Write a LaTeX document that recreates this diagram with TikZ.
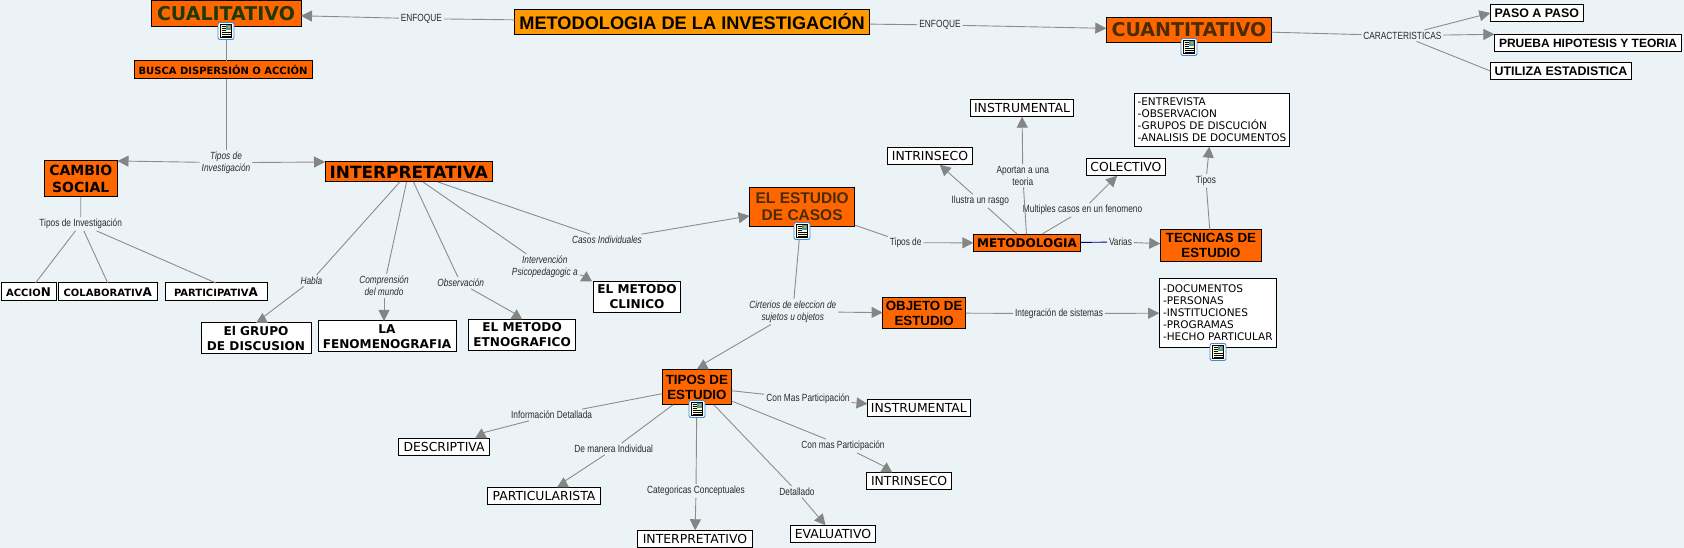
\documentclass[tikz,border=0pt]{standalone}
\usepackage{fontspec}
\setmainfont{Liberation Sans}
\newfontfamily\dv{DejaVu Sans}
\newfontfamily\lb[FakeStretch=0.8]{Liberation Sans}
\definecolor{bgc}{HTML}{ECF3F6}
\definecolor{orng}{HTML}{FF6600}
\definecolor{rootc}{HTML}{FF9900}
\definecolor{linec}{HTML}{8C8C8C}
\definecolor{headc}{HTML}{858585}
\definecolor{lblc}{HTML}{2A2A2A}
\definecolor{greenc}{HTML}{1F3A00}
\definecolor{brownc}{HTML}{4A2C00}
\definecolor{iconb}{HTML}{4A86D0}
\newcommand\fz[2]{\fontsize{#1}{#2}\selectfont}
\newcommand\mybox[7][]{%
  \pgfmathsetmacro\cxx{(#3+#5)/2}\pgfmathsetmacro\cyy{549-(#4+#6)/2}%
  \pgfmathsetmacro\www{#5-#3}\pgfmathsetmacro\hhh{#6-#4}%
  \node[boxbase,#1,minimum width=\www pt,minimum height=\hhh pt] (#2) at (\cxx,\cyy) {#7};}
\newcommand\lab[5][]{%
  \pgfmathsetmacro\cyy{549-#4}%
  \node[lbl,#1] (#2) at (#3,\cyy) {#5};}
\newcommand\upto[3]{%
  \draw[link] (#1) -- ([xshift=#3 pt,yshift=5pt]#2.north);
  \fill[headc] ([xshift=#3 pt]#2.north) ++(-6,0) -- ++(12,0) -- ++(-5.5,10) -- cycle;}
\newcommand\docicon[2]{%
  \pgfmathsetmacro\cyy{549-#2}%
  \begin{scope}[shift={(#1,\cyy)}]
    \fill[white,draw=iconb,line width=.9pt,rounded corners=2pt] (-8,-8.5) rectangle (8,8.5);
    \fill[yellow!12,draw=black,line width=.6pt] (-5.5,-6.5) rectangle (5.5,6.5);
    \fill[iconb!80!green] (0,1) rectangle (4.5,5.5);
    \fill[orng!70!yellow] (1.5,3) rectangle (3.5,5);
    \foreach \yy in {-5,-3,-1} \draw[black,line width=.7pt] (-4.5,\yy) -- (4.5,\yy);
    \foreach \yy in {1,3,5} \draw[black,line width=.7pt] (-4.5,\yy) -- (-.5,\yy);
  \end{scope}}
\tikzset{
  x=1pt,y=1pt,
  boxbase/.style={draw=black,line width=1pt,inner sep=0pt,outer sep=0pt,align=center,text=black},
  ob/.style={fill=orng},
  wb/.style={fill=white},
  fbig/.style={font=\dv\bfseries\fz{19}{21}},
  fmid/.style={font=\dv\bfseries\fz{14}{17}},
  farb/.style={font=\bfseries\fz{13.3}{15}},
  fwhb/.style={font=\dv\bfseries\fz{12.1}{15}},
  fwhr/.style={font=\dv\fz{12.4}{14}},
  flist/.style={font=\dv\fz{10.5}{12},align=left},
  lbl/.style={font=\lb\fz{10.4}{12},text=lblc,align=center,inner sep=2pt,outer sep=0pt},
  it/.style={font=\lb\itshape\fz{10.4}{12}},
  link/.style={draw=linec,line width=.9pt},
  arrowed/.style={link,-{Triangle[length=11pt,width=11pt,color=headc]}},
  bluelink/.style={draw=blue!50!black,line width=.9pt},
}
\usetikzlibrary{arrows.meta}
\begin{document}
\begin{tikzpicture}
\useasboundingbox (0,1.6) rectangle (1684,549);
\fill[bgc] (0,0) rectangle (1684,549);
% nodes
\mybox[fill=rootc,font=\bfseries\fz{18.2}{20}]{root}{514.5}{9.3}{869.7}{34.7}{METODOLOGIA DE LA INVESTIGACIÓN}
\mybox[ob,fbig,text=greenc]{cual}{151}{1}{301}{27}{CUALITATIVO}
\mybox[ob,fbig,text=brownc]{cuan}{1106.3}{17.3}{1271.7}{42.7}{CUANTITATIVO}
\mybox[ob,font=\dv\bfseries\fz{10}{12}]{busca}{134}{61}{312}{79}{BUSCA DISPERSIÓN O ACCIÓN}
\mybox[ob,fmid]{cambio}{44}{161}{117.5}{197}{CAMBIO\\SOCIAL}
\mybox[ob,font=\dv\bfseries\fz{16.9}{18}]{interp}{325}{162}{492.5}{182}{INTERPRETATIVA}
\mybox[wb,fwhb]{accion}{1}{283}{56}{301}{{\fz{10}{12}ACCIO}{\fz{12}{12}N}}
\mybox[wb,fwhb]{colab}{58}{283}{157.5}{301}{{\fz{10}{12}COLABORATIV}{\fz{12}{12}A}}
\mybox[wb,fwhb]{partic}{165}{283}{267}{301}{{\fz{10}{12}PARTICIPATIV}{\fz{12}{12}A}}
\mybox[wb,fwhb]{grupo}{201}{323}{311}{354}{El GRUPO\\DE DISCUSION}
\mybox[wb,fwhb]{fenom}{318}{321}{456}{352}{LA\\FENOMENOGRAFIA}
\mybox[wb,fwhb]{etno}{468.6}{319.3}{575.7}{350.7}{EL METODO\\ETNOGRAFICO}
\mybox[wb,fwhb]{clinico}{593.5}{281.3}{680.5}{312.7}{EL METODO\\CLINICO}
\mybox[ob,font=\bfseries\fz{15.5}{17}]{estudio}{749.5}{187.3}{854.8}{226.7}{\textcolor{brownc}{EL ESTUDIO}\\\textcolor{brownc}{DE CASOS}}
\mybox[ob,font=\dv\bfseries\fz{12}{14}]{metod}{973.4}{234.3}{1080.6}{251.7}{METODOLOGIA}
\mybox[ob,farb]{tecnicas}{1160.3}{230}{1261.6}{261.7}{TECNICAS DE\\ESTUDIO}
\mybox[ob,farb]{objeto}{882.6}{297.3}{965.6}{328.7}{OBJETO DE\\ESTUDIO}
\mybox[ob,farb]{tipos}{662.3}{369.3}{731.5}{404.7}{TIPOS DE\\ESTUDIO}
\mybox[wb,fwhr]{instr}{970.3}{99.3}{1073.7}{116.7}{INSTRUMENTAL}
\mybox[wb,fwhr]{intrin}{887.3}{147.3}{972.6}{164.7}{INTRINSECO}
\mybox[wb,fwhr]{colec}{1086.3}{158.3}{1165.5}{175.7}{COLECTIVO}
\mybox[wb,font=\bfseries\fz{12.4}{14}]{paso}{1490.3}{4.3}{1583.4}{21.7}{PASO A PASO}
\mybox[wb,font=\bfseries\fz{12}{14}]{prueba}{1494.4}{34.3}{1681.7}{51.7}{PRUEBA HIPOTESIS Y TEORIA}
\mybox[wb,font=\bfseries\fz{12.4}{14}]{utiliza}{1490.3}{62.3}{1631.5}{79.7}{UTILIZA ESTADISTICA}
\mybox[wb,flist]{entrev}{1134.3}{93.3}{1289.6}{146.7}{-ENTREVISTA\\-OBSERVACION\\-GRUPOS DE DISCUCIÓN\\-ANALISIS DE DOCUMENTOS}
\mybox[wb,flist]{docs}{1159.2}{278.3}{1276.5}{347.7}{-DOCUMENTOS\\-PERSONAS\\-INSTITUCIONES\\-PROGRAMAS\\-HECHO PARTICULAR}
\mybox[wb,fwhr]{instrb}{867.5}{399.3}{970.3}{416.7}{INSTRUMENTAL}
\mybox[wb,fwhr]{descr}{398.6}{438.3}{489.5}{455.7}{DESCRIPTIVA}
\mybox[wb,fwhr]{partl}{487.5}{487.3}{600.6}{504.7}{PARTICULARISTA}
\mybox[wb,fwhr]{interpv}{637.4}{530.3}{752.5}{547.7}{INTERPRETATIVO}
\mybox[wb,fwhr]{evalu}{790.4}{525.3}{875.5}{542.7}{EVALUATIVO}
\mybox[wb,fwhr]{intrinb}{866.4}{472.3}{951.8}{489.7}{INTRINSECO}
% labels
\lab{lenfl}{421.4}{18.7}{ENFOQUE}
\lab{lenfr}{940}{25}{ENFOQUE}
\lab{lcar}{1402.4}{35.7}{CARACTERISTICAS}
\lab[it]{ltipa}{226}{162.7}{Tipos de\\Investigación}
\lab{ltipb}{80.7}{224}{Tipos de Investigación}
\lab[it]{lhabla}{311.4}{280.7}{Habla}
\lab[it]{lcomp}{384}{285.7}{Comprensión\\del mundo}
\lab[it]{lobs}{460.7}{283}{Observación}
\lab[it]{lint}{544.8}{266.7}{Intervención\\Psicopedagogic a}
\lab[it]{lcasos}{607}{240}{Casos Individuales}
\lab{ltde}{905.7}{242.7}{Tipos de}
\lab{lilus}{980.3}{201}{Ilustra un rasgo}
\lab{lapor}{1022.8}{175.7}{Aportan a una\\teoria}
\lab{lmult}{1082.6}{210}{Multiples casos en un fenomeno}
\lab{lvar}{1120.5}{242}{Varias}
\lab{ltec}{1206}{180.7}{Tipos}
\lab{linte}{1059}{313.6}{Integración de sistemas}
\lab[it]{lcir}{792.8}{311.7}{Cirterios de eleccion de\\sujetos u objetos}
\lab{linfo}{551.6}{415}{Información Detallada}
\lab{lman}{613.7}{449}{De manera Individual}
\lab{lcat}{696}{491}{Categoricas Conceptuales}
\lab{ldet}{797}{491.7}{Detallado}
\lab{lconm}{843}{446}{Con mas Participación}
\lab{lconM}{808}{399}{Con Mas Participación}
% connectors
\draw[link] (root) -- (lenfl);
\draw[arrowed] (lenfl) -- (cual);
\draw[link] (root) -- (lenfr);
\draw[arrowed] (lenfr) -- (cuan);
\draw[link] (cuan) -- (lcar);
\draw[arrowed] (lcar) -- (paso.west);
\draw[arrowed] (lcar) -- (prueba.north west);
\draw[link] (lcar) -- (utiliza.west);
\draw[link] (cual.south) -- (cual.south |- busca.north);
\draw[link] (ltipa.north |- busca.south) -- (ltipa.north);
\draw[arrowed] (ltipa) -- (cambio.north east);
\draw[arrowed] (ltipa) -- (interp.north west);
\draw[link] (cambio) -- (ltipb);
\draw[link] (ltipb) -- ([xshift=7pt]accion.north);
\draw[link] (ltipb) -- (colab.north);
\draw[link] (ltipb) -- (partic.north);
\draw[link] (interp) -- (lhabla);
\draw[link] (interp) -- (lcomp);
\draw[link] (interp) -- (lobs);
\draw[link] (interp) -- (lint);
\draw[link] (interp) -- (lcasos);
\upto{lhabla}{grupo}{6}
\draw[arrowed] (lcomp) -- (lcomp |- fenom.north);
\upto{lobs}{etno}{-6}
\upto{lint}{clinico}{-51}
\draw[arrowed] (lcasos) -- (estudio);
\draw[link] (estudio) -- (ltde);
\draw[arrowed] (ltde) -- (metod);
\draw[link] (metod) -- (lilus);
\draw[arrowed] (lilus) -- (intrin);
\draw[link] (metod) -- (lapor);
\draw[arrowed] (lapor) -- (instr);
\draw[link] (metod) -- (lmult);
\draw[arrowed] (lmult) -- (colec);
\draw[bluelink] (metod) -- (lvar);
\draw[arrowed] (lvar) -- (tecnicas);
\draw[link] (tecnicas) -- (ltec);
\draw[arrowed] (ltec) -- (entrev);
\draw[link] (estudio) -- (lcir);
\draw[arrowed] (lcir) -- (objeto);
\upto{lcir}{tipos}{6}
\draw[link] (objeto) -- (linte);
\draw[arrowed] (linte) -- (docs);
\draw[link] (tipos) -- (linfo);
\upto{linfo}{descr}{37}
\draw[link] (tipos) -- (lman);
\upto{lman}{partl}{19}
\draw[link] (tipos) -- (lcat);
\draw[arrowed] (lcat) -- (interpv);
\draw[link] (tipos) -- (ldet);
\draw[arrowed] (ldet) -- (evalu);
\draw[link] (tipos) -- (lconm);
\upto{lconm}{intrinb}{-23}
\draw[link] (tipos) -- (lconM);
\draw[arrowed] (lconM) -- (instrb);
% icons
\docicon{226}{31}
\docicon{802}{231}
\docicon{1189}{47}
\docicon{1218}{352}
\docicon{697}{409}
\end{tikzpicture}
\end{document}
